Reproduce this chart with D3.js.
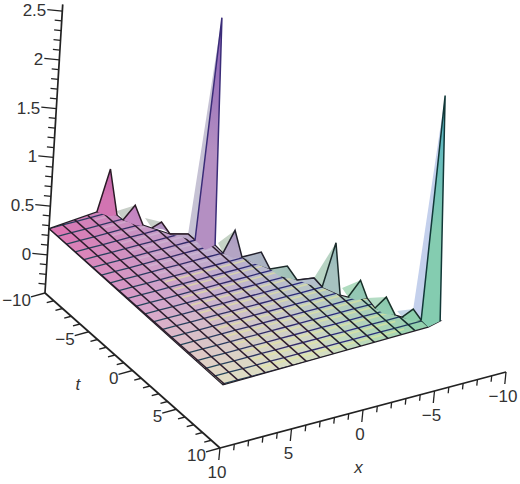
<!DOCTYPE html>
<html><head><meta charset="utf-8">
<script src="https://cdn.jsdelivr.net/npm/d3@7"></script>
<style>html,body{margin:0;background:#fff}svg{display:block}text{font-family:"Liberation Sans",Arial,sans-serif;fill:#333}</style>
</head><body><svg id="c" width="520" height="484"></svg>
<script>
// axis values
const xMajor=[10,5,0,-5,-10], xMajorLabels=["10","5","0","\u22125","\u221210"];
const tMajor=[-10,-5,0,5,10], tMajorLabels=["\u221210","\u22125","0","5","10"];
const zMajor=[0,0.5,1,1.5,2,2.5], zMajorLabels=["0","0.5","1","1.5","2","2.5"];
const zBottom=-0.39, zTop=2.57, planeZ=0.27;
// surface: boundary of the flat part, [x,t]
const outline=[[10,-10],[6.41,-10.39],[5.51,-9.56],[5.49,-8.91],[4.72,-7.88],[4.42,-7.35],[3.81,-6.28],[2.84,-5.8],[2.83,-5.02],[2.06,-3.99],[2.12,-2.99],[1.34,-2.09],[0.56,-0.16],[-0.23,1.64],[-1.26,1.89],[-1.15,3],[-1.63,4.27],[-1.94,4.68],[-2.9,5.28],[-2.72,6.48],[-3.38,7.71],[-3.63,8.09],[-4.47,8.89],[-5.43,9.49],[-4.42,9.77],[10.13,10.1]];
const gridT=d3.range(-10,11,1);
const gridX=d3.range(0,17).map(i=>10-i*0.964);
// spikes: left foot, tip [x,t,z], right foot, front foot, fringe start, colours
const spikeLeft=[[6.41,-10.39],[5.49,-8.91],[4.42,-7.35],[3.81,-6.28],[2.83,-5.02],[2.12,-2.99],[1.34,-2.09],[0.56,-0.16],[-0.23,1.64],[-1.15,3],[-1.94,4.68],[-2.72,6.48],[-3.63,8.09],[-4.47,8.89]];
const spikeTip=[[5.69,-10.3,0.69],[4.69,-8.9,0.39],[3.73,-7.4,0.3],[2.84,-5.8,0.27],[2.12,-4.67,2.55],[0.9,-3.69,0.4],[0.19,-1.79,0.3],[-0.36,0.29,0.3],[-1.26,1.89,0.27],[-2.52,2.12,0.6],[-3.13,4.1,0.35],[-3.8,5.98,0.3],[-4.71,7.59,0.27],[-5.47,8.47,2.5]];
const spikeRight=[[5.51,-9.56],[4.72,-7.88],[3.81,-6.28],[2.83,-5.02],[2.06,-3.99],[1.34,-2.09],[0.56,-0.16],[-0.23,1.64],[-1.15,3],[-1.63,4.27],[-2.9,5.28],[-3.38,7.71],[-4.47,8.89],[-5.43,9.49]];
const spikeFront=[[6.0,-9.6],[5.1,-8.0],[3.9,-6.9],[3.2,-5.4],[2.9,-3.76],[1.88,-2.23],[1.11,-1.2],[0.5,0.77],[-0.6,2.4],[-1.15,3],[-2.19,5.19],[-2.84,7.32],[-3.87,8.72],[-4.42,9.77]];
const fringeStart=[null,[5.27,-9.96],[4.19,-8.52],null,[2.84,-5.8],[1.78,-4.11],[1.17,-2.01],[0.56,-0.04],null,[-1.26,1.89],[-2.16,3.63],[-2.9,5.28],[-3.73,7.36],[-4.71,7.59]];
const spikeFill=["#d274b2","#c688c2","#b898c6","#b9a6c8","#b48fc2","#b3a4c4","#adb4c4","#a8c4bc","#b4c0cc","#a6c2c0","#94c8b4","#90ccb0","#8cceac","#84ccb0"];
const spikeTopFill=["#c060a8","#c080c0","#b090c0","#b9a6c8","#8a60b8","#a898c0","#a8b0c0","#a0c0b8","#b4c0cc","#90b8b8","#8cc4b0","#88c8ac","#8cceac","#50b0c8"];
const spikeLine=["#2a1a26","#2a1a26","#2a1a26","#2a1a26","#3a2c78","#22202c","#22202c","#1c2a2a","#22202c","#1c2c2c","#183028","#183028","#183028","#123838"];
const fringeFill=[null,"#c8cfc8","#c8cfc8",null,"#c6c2d4","#c6d4c6","#c4d4c4","#c0d6c6",null,"#b8d4c4","#b0dcc0","#b4dcc4","#c4d6e6","#c4d0ec"];
// surface colours sampled at t=-10,0,10 for x=10,2.5,-5
const colorT=[-10,0,10], colorX=[10,2.5,-5];
const colorRows=[["#dc72b0","#bb98c8","#a4a8c8"],["#d8a0ca","#bcb4cf","#a8cac4"],["#e2dfc4","#d4e0c2","#88d0aa"]];

const sx=d3.scaleLinear().domain([10,-10]).range([0,286]);
const sxy=d3.scaleLinear().domain([10,-10]).range([0,-76]);
const st=d3.scaleLinear().domain([-10,10]).range([0,175]);
const sty=d3.scaleLinear().domain([-10,10]).range([0,155]);
const sz=d3.scaleLinear().domain([zBottom,2.5]).range([0,17.3]);
const szy=d3.scaleLinear().domain([zBottom,2.5]).range([0,-281.8]);
const P=(x,t,z)=>[45+sx(x)+st(t)+sz(z),293+sxy(x)+sty(t)+szy(z)];
const Q=p=>P(p[0],p[1],planeZ);
const poly=d3.line();
const svg=d3.select("#c");
const defs=svg.append("defs");
defs.append("clipPath").attr("id","plane").append("path").attr("d",poly(outline.map(Q))+"Z");

// fringes behind the spikes
const gF=svg.append("g");
spikeTip.forEach((tip,i)=>{ if(!fringeStart[i])return;
  gF.append("path").attr("d",poly([Q(fringeStart[i]),P(...tip),Q(spikeLeft[i])])+"Z").attr("fill",fringeFill[i]);
});

// surface cells
const rowScales=colorRows.map(r=>d3.scaleLinear().domain(colorX).range(r).interpolate(d3.interpolateLab).clamp(true));
const cellColor=(x,t)=>d3.scaleLinear().domain(colorT).range(rowScales.map(f=>f(x))).interpolate(d3.interpolateLab).clamp(true)(t);
const gS=svg.append("g").attr("clip-path","url(#plane)");
const xsAll=[11].concat(gridX,[gridX[16]-1]);
const tsAll=[-11].concat(gridT,[11]);
for(let i=0;i<xsAll.length-1;i++)for(let j=0;j<tsAll.length-1;j++){
  const a=xsAll[i],b=xsAll[i+1],c=tsAll[j],d=tsAll[j+1];
  gS.append("path").attr("d",poly([Q([a,c]),Q([b,c]),Q([b,d]),Q([a,d])])+"Z")
    .attr("fill",cellColor((a+b)/2,(c+d)/2)).attr("stroke",cellColor((a+b)/2,(c+d)/2)).attr("stroke-width",0.5);
}
// yellow sheen beside the lattice in the middle of the sheet
gridT.forEach(t=>{ gS.append("path").attr("d",poly([Q([7,t+0.34]),Q([-3,t+0.34])]))
  .attr("stroke",t>-3?"#e8ea98":"#d8d0e0").attr("stroke-opacity",t>-3?0.55:0.35).attr("stroke-width",1.6).attr("fill","none"); });
// lattice
const lineTint=d3.scaleLinear().domain([10,5,0,-5]).range(["#24445a","#332a66","#2a2a80","#1c4a48"]);
gridT.forEach(t=>{ for(let i=0;i<xsAll.length-1;i++){
  gS.append("path").attr("d",poly([Q([xsAll[i],t]),Q([xsAll[i+1],t])])).attr("stroke",lineTint(xsAll[i])).attr("stroke-width",1.3).attr("fill","none");
}});
gridX.forEach(x=>{
  gS.append("path").attr("d",poly([Q([x,-11]),Q([x,11])])).attr("stroke",x>2?"#2e1c2c":(x>-2?"#22222a":"#142a2a")).attr("stroke-width",1.5).attr("fill","none");
});
// boundary
svg.append("path").attr("d",poly(outline.map(Q))+"Z").attr("fill","none").attr("stroke","#241f28").attr("stroke-width",1.2);

// spikes
spikeTip.forEach((tip,i)=>{
  const id="sp"+i, tp=P(...tip), lp=Q(spikeLeft[i]);
  const g=defs.append("linearGradient").attr("id",id).attr("gradientUnits","userSpaceOnUse")
    .attr("x1",tp[0]).attr("y1",tp[1]).attr("x2",lp[0]).attr("y2",lp[1]);
  g.append("stop").attr("offset",0).attr("stop-color",spikeTopFill[i]);
  g.append("stop").attr("offset",0.6).attr("stop-color",spikeFill[i]);
  svg.append("path").attr("d",poly([lp,tp,Q(spikeRight[i]),Q(spikeFront[i])])+"Z").attr("fill",`url(#${id})`);
  svg.append("path").attr("d",poly([lp,tp,Q(spikeRight[i])])).attr("fill","none").attr("stroke",spikeLine[i]).attr("stroke-width",1.5).attr("stroke-linejoin","miter");
});

// axes
const gA=svg.append("g").attr("stroke","#222").attr("stroke-width",1.5).attr("fill","none");
const seg=(p,q,w)=>gA.append("line").attr("x1",p[0]).attr("y1",p[1]).attr("x2",q[0]).attr("y2",q[1]).attr("stroke-width",w||1.3);
const Z=z=>P(10,-10,z), T=t=>P(10,t,zBottom), X=x=>P(x,10,zBottom);
seg(Z(zBottom),Z(zTop),1.7); seg(T(-10),T(10),1.7); seg(X(10),X(-10),1.7);
d3.range(-3,26).map(v=>v/10).forEach(z=>{
  const major=zMajor.some(m=>Math.abs(m-z)<1e-6), p=Z(z), k=major?15:7;
  seg(p,[p[0]-k,p[1]-k*0.11]);
});
d3.range(-10,11).forEach(t=>{
  const major=tMajor.includes(t), p=T(t), k=major?14:7;
  seg(p,[p[0]-k,p[1]+k*0.27]);
});
d3.range(-10,11).forEach(x=>{
  const major=xMajor.includes(x), p=X(x), k=major?12:6;
  seg(p,[p[0]-k*0.1,p[1]+k]);
});
const label=(s,p,dx,dy,anchor,it)=>svg.append("text").attr("x",p[0]+dx).attr("y",p[1]+dy).attr("font-size",17).attr("text-anchor",anchor||"middle").attr("font-style",it?"italic":null).text(s);
zMajor.forEach((z,i)=>label(zMajorLabels[i],Z(z),-16,5,"end"));
tMajor.forEach((t,i)=>label(tMajorLabels[i],T(t),-14,13,"end"));
xMajor.forEach((x,i)=>label(xMajorLabels[i],X(x),-3,30));
label("t",T(-1),-46,27,"middle",true);
label("x",X(2),24,55,"middle",true);
</script></body></html>
